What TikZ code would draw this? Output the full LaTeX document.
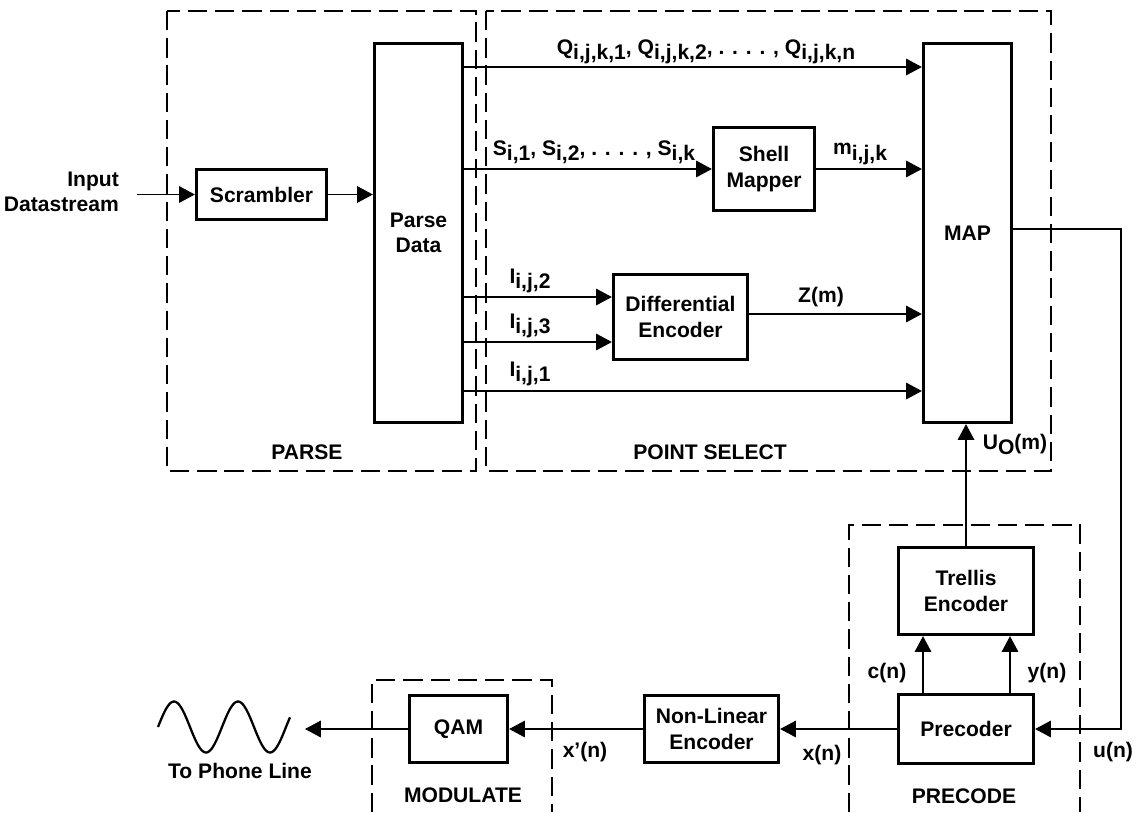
\documentclass[tikz,border=0pt]{standalone}
\usepackage{fontspec}
\setmainfont{Liberation Sans}
\usepackage{tikz}
\usetikzlibrary{arrows.meta}

\newcommand{\lo}[1]{\raisebox{-0.45ex}{#1}}

\begin{document}
\begin{tikzpicture}[
      x=0.02cm, y=-0.02cm,
      >={Triangle[length=9pt, width=9.5pt]},
      every node/.style={font=\bfseries\fontsize{12}{14.5}\selectfont},
      blk/.style={draw, line width=1.9pt, align=center, inner sep=0pt},
      grp/.style={line width=1.5pt, dash pattern=on 11pt off 4.5pt},
      conn/.style={->, line width=0.6pt},
      wave/.style={line width=1.3pt}
    ]
    \useasboundingbox (0,0) rectangle (1138,812);

    % Riquadri tratteggiati
    \draw[grp] (167,11) rectangle (476,471);
    \draw[grp] (486,11) rectangle (1051,471);
    \draw[grp] (849,812) |- (1080,525) -- (1080,812);
    \draw[grp] (372,812) |- (552,680) -- (552,812);
    \node at (307,452) {PARSE};
    \node at (710,452) {POINT SELECT};
    \node at (964,796) {PRECODE};
    \node at (463,795) {MODULATE};

    % Blocchi
    \node[blk, minimum width=2.6cm, minimum height=1.0cm] (scram) at (261.5,194.5) {Scrambler};
    \node[blk, minimum width=1.76cm, minimum height=7.58cm] (parse) at (418.5,233) {Parse\\Data};
    \node[blk, minimum width=2.02cm, minimum height=1.66cm] (shell) at (764,169) {Shell\\Mapper};
    \node[blk, minimum width=2.68cm, minimum height=1.7cm] (diffenc) at (680.5,317) {Differential\\Encoder};
    \node[blk, minimum width=1.76cm, minimum height=7.58cm] (map) at (967.5,233) {MAP};
    \node[blk, minimum width=2.7cm, minimum height=1.74cm] (trellis) at (966,591) {Trellis\\Encoder};
    \node[blk, minimum width=2.7cm, minimum height=1.38cm] (precoder) at (966,729) {Precoder};
    \node[blk, minimum width=2.68cm, minimum height=1.34cm] (nonlin) at (711.5,729) {Non-Linear\\Encoder};
    \node[blk, minimum width=1.96cm, minimum height=1.34cm] (qam) at (458.5,729) {QAM};

    % Punti di riferimento
    \coordinate (in) at (137,194.5);
    \coordinate (rowQ) at (0,67);
    \coordinate (rowI2) at (0,297);
    \coordinate (rowZ) at (0,314);
    \coordinate (rowI3) at (0,342);
    \coordinate (rowI1) at (0,391);
    \coordinate (turn) at (1121,229);
    \coordinate (colC) at (923,0);
    \coordinate (colY) at (1010,0);
    \coordinate (line) at (305,729);

    % Collegamenti
    \draw[conn] (in) -- (scram.west);
    \draw[conn] (scram.east) -- (scram.east -| parse.west);
    \draw[conn] (parse.east |- rowQ) -- (map.west |- rowQ);
    \draw[conn] (parse.east |- shell) -- (shell.west);
    \draw[conn] (shell.east) -- (shell.east -| map.west);
    \draw[conn] (parse.east |- rowI2) -- (diffenc.west |- rowI2);
    \draw[conn] (parse.east |- rowI3) -- (diffenc.west |- rowI3);
    \draw[conn] (diffenc.east |- rowZ) -- (map.west |- rowZ);
    \draw[conn] (parse.east |- rowI1) -- (map.west |- rowI1);
    \draw[conn] (trellis.north) -- (trellis.north |- map.south);
    \draw[conn] (precoder.north -| colC) -- (trellis.south -| colC);
    \draw[conn] (precoder.north -| colY) -- (trellis.south -| colY);
    \draw[conn] (map.east |- turn) -- (turn) |- (precoder.east);
    \draw[conn] (precoder.west) -- (nonlin.east);
    \draw[conn] (nonlin.west) -- (qam.east);
    \draw[conn] (qam.west) -- (line);

    % Etichette
    \node[anchor=east, align=right] at (125,192) {Input\\Datastream};
    \node at (706,52) {Q\lo{i,j,k,1}, Q\lo{i,j,k,2}, . . . . , Q\lo{i,j,k,n}};
    \node at (594,152) {S\lo{i,1}, S\lo{i,2}, . . . . , S\lo{i,k}};
    \node at (860,154) {m\lo{i,j,k}};
    \node at (530,281) {I\lo{i,j,2}};
    \node at (530,326) {I\lo{i,j,3}};
    \node at (530,374) {I\lo{i,j,1}};
    \node at (821,297) {Z(m)};
    \node at (1015,444) {U\lo{O}(m)};
    \node at (887,673) {c(n)};
    \node at (1047,673) {y(n)};
    \node at (1113,752) {u(n)};
    \node at (822,755) {x(n)};
    \node at (585,752) {x’(n)};

    % Linea telefonica
    \draw[wave] plot[domain=0:132, samples=90, smooth] ({158+\x}, {727-25.5*sin(\x*5.625)});
    \node at (240,771) {To Phone Line};
  \end{tikzpicture}
\end{document}
